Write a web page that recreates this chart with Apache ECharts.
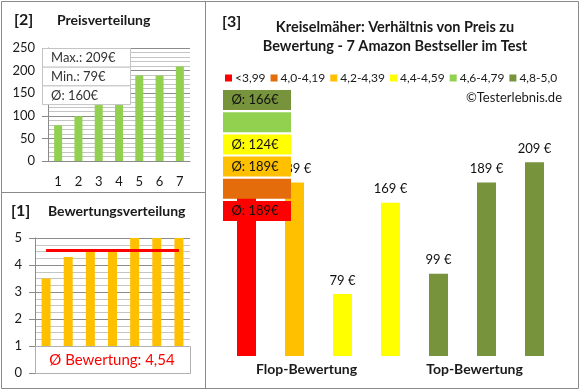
<!DOCTYPE html>
<html><head><meta charset="utf-8">
<script src="https://cdn.jsdelivr.net/npm/echarts@6/dist/echarts.min.js"></script>
<style>html,body{margin:0;padding:0;background:#fff}#c{width:580px;height:390px}</style>
</head><body><div id="c"></div>
<script>
// ---- data ----
const priceCategories = ['1', '2', '3', '4', '5', '6', '7'];
const priceValues = [79, 99, 169, 189, 189, 189, 209];
const priceSummary = ['Max.: 209€', 'Min.: 79€', 'Ø: 160€'];
const ratingValues = [3.5, 4.3, 4.5, 4.5, 5, 5, 5];
const ratingAverage = 4.54;
const ratingAverageText = 'Ø Bewertung: 4,54';
const productPrices = [189, 189, 79, 169, 99, 189, 209];
const productGroup = [0, 2, 3, 3, 5, 5, 5];
const groupNames = ['<3,99', '4,0-4,19', '4,2-4,39', '4,4-4,59', '4,6-4,79', '4,8-5,0'];
const groupAverages = ['Ø: 189€', '', 'Ø: 189€', 'Ø: 124€', '', 'Ø: 166€'];
const sectionCategories = ['Flop-Bewertung', 'Top-Bewertung'];
const panelTitles = ['[2]', 'Preisverteilung', '[1]', 'Bewertungsverteilung', '[3]'];
const mainTitle = 'Kreiselmäher: Verhältnis von Preis zu\nBewertung - 7 Amazon Bestseller im Test';
const copyright = '©Testerlebnis.de';

// ---- styles ----
const groupColors = ['#FF0000', '#E46C0A', '#FFC000', '#FFFF00', '#92D050', '#77933C'];
const FONT = 'Lato, "Open Sans", sans-serif';
const frameColor = '#8a8a8a';
const txt = '#1a1a1a';

const chart = echarts.init(document.getElementById('c'));

const graphic = [];
// frame
graphic.push({type:'rect', z:100, shape:{x:1.5, y:1.5, width:577, height:387}, style:{fill:null, stroke:frameColor, lineWidth:1}});
graphic.push({type:'line', z:100, shape:{x1:205.5, y1:1.5, x2:205.5, y2:388.5}, style:{stroke:frameColor, lineWidth:1}});
graphic.push({type:'line', z:100, shape:{x1:1.5, y1:192.5, x2:205.5, y2:192.5}, style:{stroke:frameColor, lineWidth:1}});
// titles
graphic.push({type:'text', z:100, x:14, y:20, style:{text:panelTitles[0], font:'bold 16px ' + FONT, fill:txt, verticalAlign:'middle'}});
graphic.push({type:'text', z:100, x:57, y:20, style:{text:panelTitles[1], font:'bold 14px ' + FONT, fill:txt, verticalAlign:'middle'}});
graphic.push({type:'text', z:100, x:11, y:211, style:{text:panelTitles[2], font:'bold 16px ' + FONT, fill:txt, verticalAlign:'middle'}});
graphic.push({type:'text', z:100, x:48, y:211, style:{text:panelTitles[3], font:'bold 14px ' + FONT, fill:txt, verticalAlign:'middle'}});
graphic.push({type:'text', z:100, x:222, y:22, style:{text:panelTitles[4], font:'bold 16px ' + FONT, fill:txt, verticalAlign:'middle'}});
graphic.push({type:'text', z:100, x:395, y:37, style:{text:mainTitle, font:'bold 14.5px ' + FONT, fill:txt, align:'center', verticalAlign:'middle', lineHeight:19}});
graphic.push({type:'text', z:100, x:562, y:98, style:{text:copyright, font:'13px ' + FONT, fill:txt, align:'right', verticalAlign:'middle'}});
// price summary box
priceSummary.forEach((t, i) => {
  const y = 48 + i * 18.7;
  graphic.push({type:'rect', z:100, shape:{x:42.5, y:y + 0.5, width:88, height:18.7}, style:{fill:'#fff', stroke:'#c4c4c4', lineWidth:1}});
  graphic.push({type:'text', z:101, x:51, y:y + 10, style:{text:t, font:'13px ' + FONT, fill:'#333', verticalAlign:'middle'}});
});
// rating average box
graphic.push({type:'rect', z:100, shape:{x:35.5, y:346.5, width:155, height:27}, style:{fill:'#fff', stroke:'#b0b0b0', lineWidth:1}});
graphic.push({type:'text', z:101, x:112, y:360, style:{text:ratingAverageText, font:'15px ' + FONT, fill:'#FF0000', align:'center', verticalAlign:'middle'}});
// group average boxes
groupAverages.forEach((t, i) => {
  const y = 90 + (5 - i) * 22.2;
  graphic.push({type:'rect', z:100, shape:{x:223, y:y, width:68, height:20}, style:{fill:groupColors[i]}});
  if (t) graphic.push({type:'text', z:101, x:255, y:y + 10, style:{text:t, font:'13px ' + FONT, fill:'#111', align:'center', verticalAlign:'middle'}});
});

const rightSeries = groupNames.map((n, i) => ({
  type:'bar', name:n, xAxisIndex:2, yAxisIndex:2, barWidth:19, barGap:'-100%',
  data: productPrices.map((v, j) => productGroup[j] === i ? v : '-'),
  itemStyle:{color:groupColors[i]},
  label:{show:true, position:'top', distance:7, formatter:'{c} €', fontSize:13, fontFamily:FONT, color:'#111'}
}));

const yCommon = {
  axisLine:{show:true, lineStyle:{color:frameColor}},
  axisTick:{show:true, length:6, lineStyle:{color:frameColor}},
  axisLabel:{fontSize:13, fontFamily:FONT, color:txt, margin:13},
  splitLine:{show:true, lineStyle:{color:'#8c8c8c'}},
  minorSplitLine:{show:true, lineStyle:{color:'#c4c4c4'}}
};

chart.setOption({
  animation:false,
  backgroundColor:'#fff',
  textStyle:{fontFamily:FONT},
  legend:{
    left:225, top:72, width:400, padding:0, itemWidth:7, itemHeight:7, itemGap:5, icon:'rect',
    textStyle:{fontSize:12, fontFamily:FONT, color:txt, padding:[0,0,0,-2]},
    data: groupNames
  },
  grid:[
    {left:48, top:48, width:142, height:113, outerBoundsMode:'none'},
    {left:35, top:238, width:155, height:135, outerBoundsMode:'none'},
    {left:222.5, top:153, width:336, height:203, outerBoundsMode:'none'}
  ],
  xAxis:[
    {type:'category', gridIndex:0, data:priceCategories,
      axisLine:{lineStyle:{color:frameColor}}, axisTick:{show:false},
      axisLabel:{fontSize:13, fontFamily:FONT, color:txt, margin:14}},
    {type:'category', gridIndex:1, data:priceCategories,
      axisLine:{lineStyle:{color:frameColor}}, axisTick:{show:false}, axisLabel:{show:false}},
    {type:'category', gridIndex:2, data:priceCategories, show:false},
    {type:'category', gridIndex:2, data:sectionCategories, position:'bottom',
      axisLine:{show:false}, axisTick:{show:false},
      axisLabel:{fontSize:14, fontWeight:'bold', fontFamily:FONT, color:txt, margin:6}}
  ],
  yAxis:[
    Object.assign({type:'value', gridIndex:0, min:0, max:250, interval:50, minorTick:{show:false, splitNumber:5}}, yCommon),
    Object.assign({type:'value', gridIndex:1, min:0, max:5, interval:1, minorTick:{show:false, splitNumber:4}}, yCommon),
    {type:'value', gridIndex:2, min:18, max:218, show:false}
  ],
  series:[
    {type:'bar', xAxisIndex:0, yAxisIndex:0, data:priceValues, barWidth:8, itemStyle:{color:'#92D050'}},
    {type:'bar', xAxisIndex:1, yAxisIndex:1, data:ratingValues, barWidth:9, itemStyle:{color:'#FFC000'}},
    {type:'line', xAxisIndex:1, yAxisIndex:1, data:ratingValues.map(() => ratingAverage), symbol:'none',
      lineStyle:{color:'#FF0000', width:3}, z:5},
    ...rightSeries
  ],
  graphic: graphic
});
</script></body></html>
